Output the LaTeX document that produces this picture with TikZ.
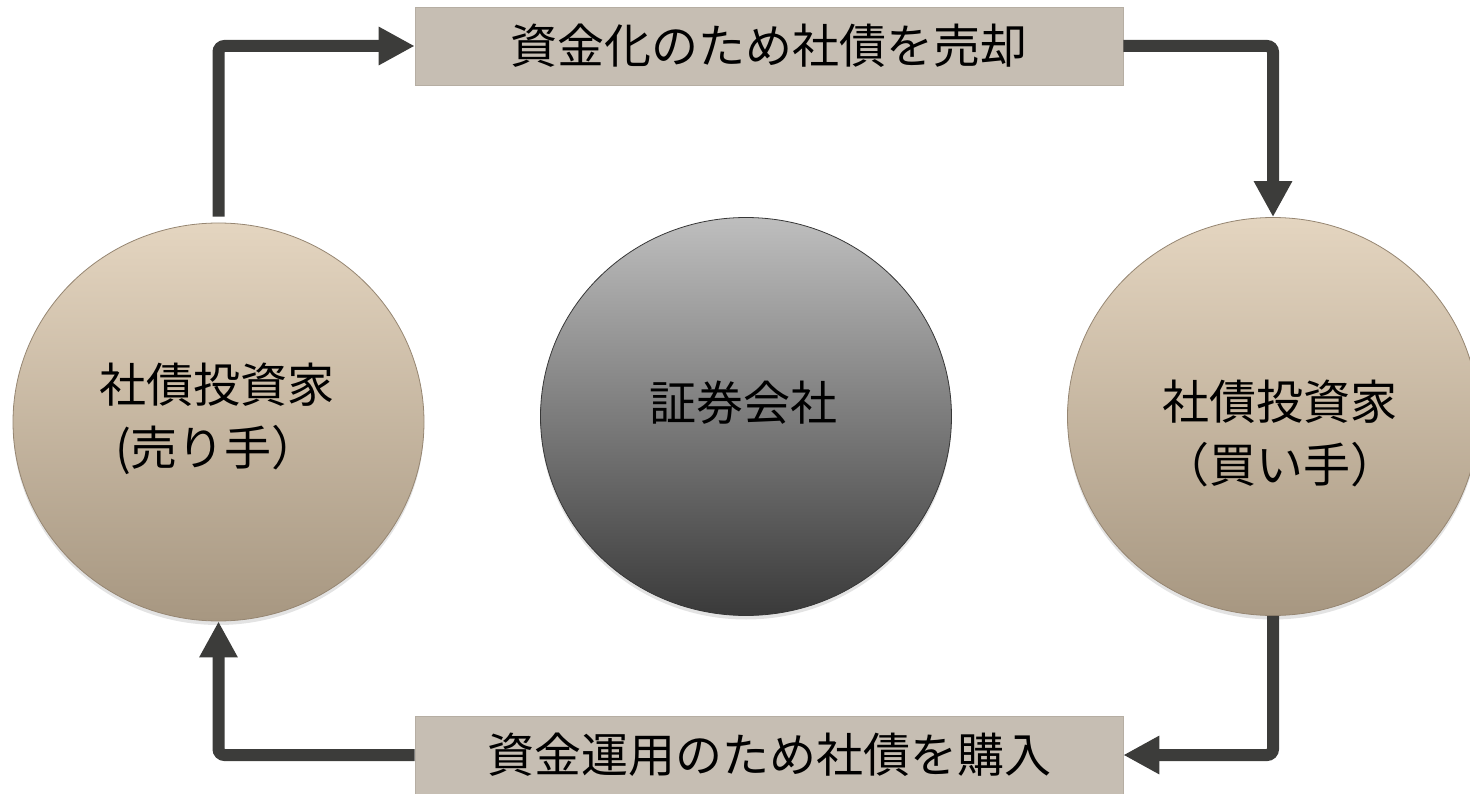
\documentclass[tikz,border=0pt]{standalone}
\usepackage{fontspec}
\setmainfont{Noto Sans CJK JP}
\usetikzlibrary{arrows.meta,shapes.geometric,shadows}
\definecolor{tantop}{RGB}{228,213,192}
\definecolor{tanbot}{RGB}{167,151,129}
\definecolor{tanedge}{RGB}{150,134,114}
\definecolor{graytop}{RGB}{190,190,190}
\definecolor{graybot}{RGB}{58,58,58}
\definecolor{grayedge}{RGB}{55,55,55}
\definecolor{boxfill}{RGB}{198,190,179}
\definecolor{boxedge}{RGB}{182,174,163}
\definecolor{arrowc}{RGB}{60,60,58}
\begin{document}
\begin{tikzpicture}[x=1pt,y=-1pt,
  bigtext/.style={font=\fontsize{47}{63}\selectfont, align=center, inner sep=0pt, text=black},
  ball/.style={ellipse, line width=0.8pt, minimum width=411pt, minimum height=398pt, inner sep=0pt,
    drop shadow={opacity=0.22, shadow xshift=0pt, shadow yshift=-4pt}},
  tanball/.style={ball, draw=tanedge, top color=tantop, bottom color=tanbot},
  grayball/.style={ball, draw=grayedge, top color=graytop, bottom color=graybot},
  labelbox/.style={rectangle, draw=boxedge, line width=0.6pt, fill=boxfill, minimum width=708pt, minimum height=78pt, inner sep=0pt,
    font=\fontsize{47}{56}\selectfont},
  flow/.style={draw=arrowc, line width=12pt, rounded corners=6pt, -{Triangle[length=36pt,width=36pt]}}
]
\useasboundingbox (0,0) rectangle (1470,794);

% boxes
\node[labelbox] (T) at (769,46) {資金化のため社債を売却};
\node[labelbox] (B) at (769,755) {資金運用のため社債を購入};

% circles
\node[tanball] (L) at (218.5,422) {};
\node[grayball] (M) at (746,416.5) {};
\node[tanball] (R) at (1273,416.5) {};

% texts
\node[bigtext] (Lt) at (217,419) {社債投資家\\(売り手）};
\node[bigtext] (Mt) at (743,403) {証券会社};
\node[bigtext] (Rt) at (1280,434) {社債投資家\\（買い手）};

% connectors
\draw[flow] ([yshift=6pt]L.north) |- (T.west);
\draw[flow] (T.east) -| (R.north);
\draw[flow] (R.south) |- (B.east);
\draw[flow] (B.west) -| (L.south);
\end{tikzpicture}
\end{document}
